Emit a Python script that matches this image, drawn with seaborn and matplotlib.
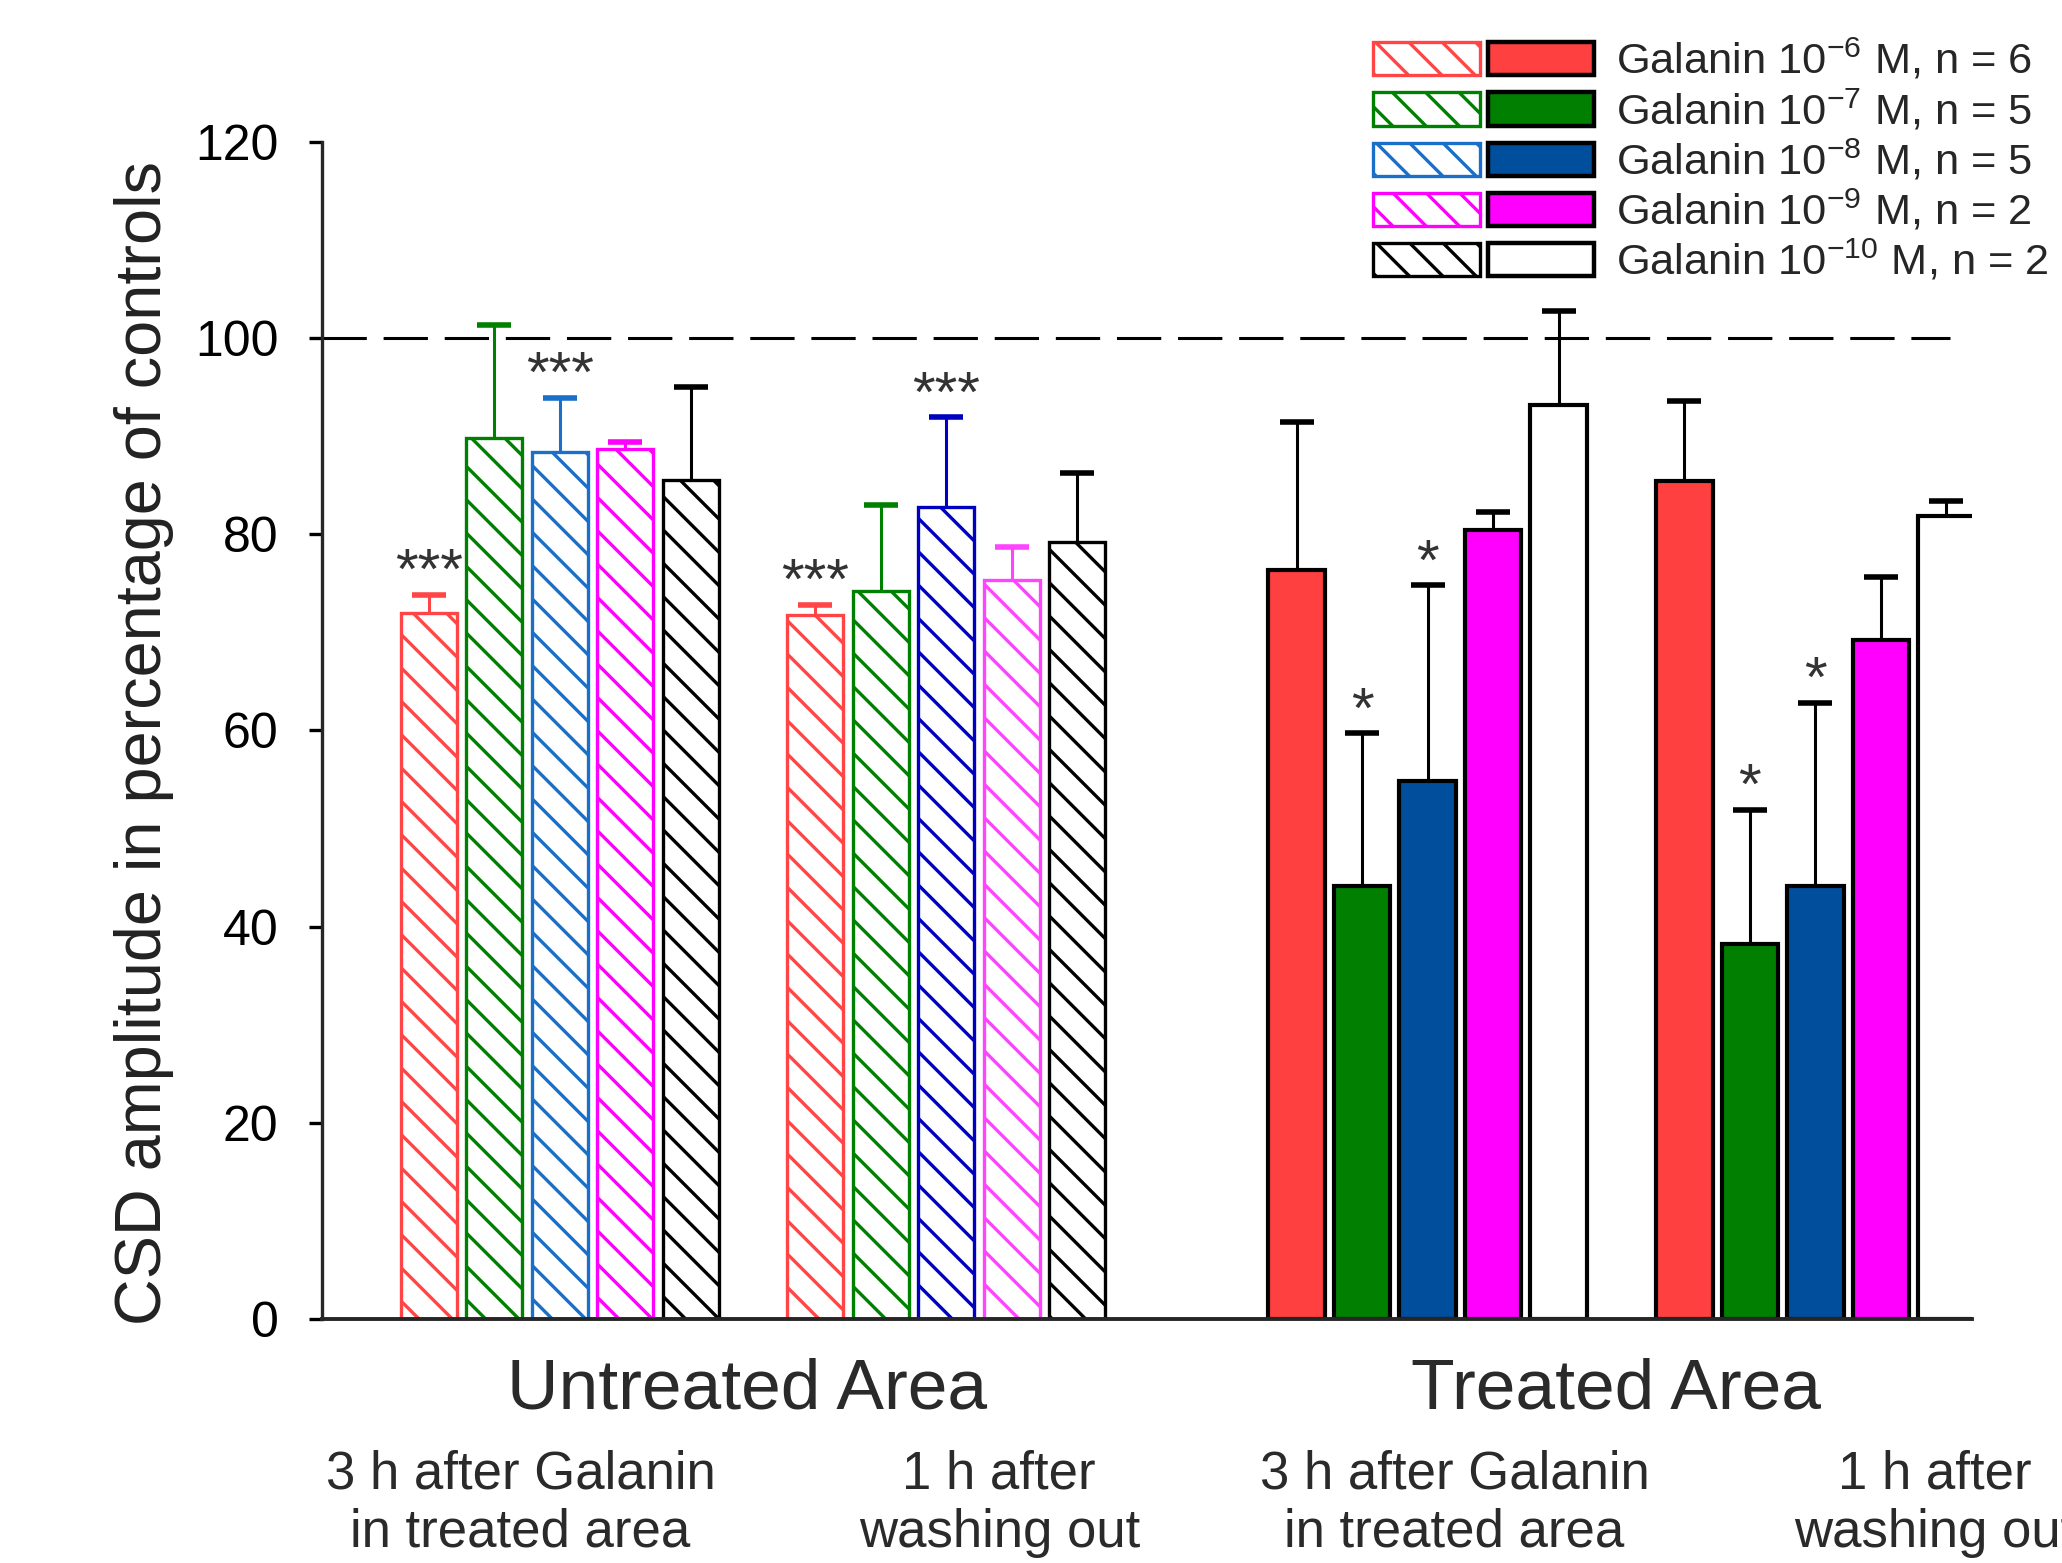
import numpy as np
import pandas as pd
import matplotlib
matplotlib.use("Agg")
import matplotlib.pyplot as plt
import matplotlib.patches as mpatches
from matplotlib.legend_handler import HandlerTuple
import seaborn as sns

# values (% of controls, mean and upper SEM)
conditions = ["untreated_3h", "untreated_1h", "treated_3h", "treated_1h"]
concentrations = ["1e-6", "1e-7", "1e-8", "1e-9", "1e-10"]
exponents = [-6, -7, -8, -9, -10]
n_animals = [6, 5, 5, 2, 2]

amp_untreated_3h = [72.0, 89.8, 88.4, 88.7, 85.5]
amp_untreated_1h = [71.8, 74.2, 82.8, 75.3, 79.2]
amp_treated_3h = [76.3, 44.1, 54.8, 80.4, 93.2]
amp_treated_1h = [85.4, 38.2, 44.1, 69.2, 81.9]

sem_untreated_3h = [1.8, 11.5, 5.5, 0.7, 9.5]
sem_untreated_1h = [1.0, 8.8, 9.1, 3.4, 7.0]
sem_treated_3h = [15.1, 15.6, 20.0, 1.9, 9.6]
sem_treated_1h = [8.2, 13.7, 18.7, 6.4, 1.5]

stars_untreated_3h = ["***", "", "***", "", ""]
stars_untreated_1h = ["***", "", "***", "", ""]
stars_treated_3h = ["", "*", "*", "", ""]
stars_treated_1h = ["", "*", "*", "", ""]

area_labels = ["Untreated Area", "Treated Area"]
time_labels = ["3 h after Galanin\nin treated area", "1 h after\nwashing out",
               "3 h after Galanin\nin treated area", "1 h after\nwashing out"]

# colours
hatch_colors_3h = ["#FF4545", "#008000", "#1A6FC9", "#FF00FF", "#000000"]
hatch_colors_1h = ["#FF4545", "#008000", "#0000C0", "#FF44FF", "#000000"]
fill_colors = ["#FF4040", "#007F00", "#004E9C", "#FF00FF", "#FFFFFF"]

# build a long table for seaborn
amps = [amp_untreated_3h, amp_untreated_1h, amp_treated_3h, amp_treated_1h]
sems = [sem_untreated_3h, sem_untreated_1h, sem_treated_3h, sem_treated_1h]
stars = [stars_untreated_3h, stars_untreated_1h, stars_treated_3h, stars_treated_1h]
rows = []
for cond, a, s, st in zip(conditions, amps, sems, stars):
    for conc, v, e, t in zip(concentrations, a, s, st):
        rows.append({"condition": cond, "conc": conc, "amp": v, "sem": e, "star": t})
df = pd.DataFrame(rows)

# layout: group centres on a scale where one bar step = 1
group_x = np.array([3.63, 9.53, 16.88, 22.8])
x_max = 25.19
df["x"] = df["condition"].map(dict(zip(conditions, group_x)))

sns.set_theme(style="ticks")
plt.rcParams["font.family"] = ["Liberation Sans", "DejaVu Sans"]
plt.rcParams["mathtext.fontset"] = "custom"
plt.rcParams["mathtext.rm"] = "Liberation Sans"
plt.rcParams["hatch.linewidth"] = 1.2

HATCH = "\\\\"

fig = plt.figure(figsize=(10.31, 7.815), dpi=200)
ax = fig.add_axes([0.1562, 0.1561, 0.8001, 0.7532])

nlev = len(concentrations)
sns.barplot(data=df, x="x", y="amp", hue="conc", hue_order=concentrations,
            native_scale=True, width=nlev / np.diff(group_x).min(), gap=0.14,
            errorbar=None, legend=False, palette=fill_colors, ax=ax)

# style each bar and add its error bar / significance marks
for p in list(ax.patches):
    cx = p.get_x() + p.get_width() / 2
    g = int(np.argmin(np.abs(group_x - cx)))
    i = int(round(cx - group_x[g] + (nlev - 1) / 2))
    top = p.get_height()
    row = df[(df["condition"] == conditions[g]) & (df["conc"] == concentrations[i])].iloc[0]
    if g < 2:
        c = (hatch_colors_3h if g == 0 else hatch_colors_1h)[i]
        p.set_facecolor("white")
        p.set_edgecolor(c)
        p.set_hatch(HATCH)
        p.set_linewidth(1.2)
        ecol = c
    else:
        p.set_facecolor(fill_colors[i])
        p.set_edgecolor("black")
        p.set_linewidth(1.5)
        ecol = "black"
    eb = ax.errorbar(cx, top, yerr=[[0], [row["sem"]]], color=ecol, lw=1.1,
                     capsize=6, capthick=2, zorder=1)
    eb.lines[1][0].remove()  # no cap at the bar top
    if row["star"]:
        ax.text(cx, top + row["sem"] + 0.6, row["star"], ha="center", va="baseline",
                fontsize=21, color="#333333")

# reference line at 100 %
ax.axhline(100, xmin=0, xmax=0.987, color="black", lw=1.1, linestyle=(0, (14.5, 5.5)), zorder=0)

ax.set_xlim(0, x_max)
ax.set_ylim(0, 120)
ax.set_yticks(np.arange(0, 121, 20))
ax.set_xticks([])
ax.set_xlabel("")
ax.set_ylabel("CSD amplitude in percentage of controls", fontsize=23.3, color="#222222")
ax.yaxis.set_label_coords(-0.09, 0.489)
ax.tick_params(axis="y", labelsize=18, length=4.7, width=1.2, pad=11, colors="black")
sns.despine(ax=ax)
ax.spines["left"].set_linewidth(1.2)
ax.spines["bottom"].set_linewidth(1.4)

# category labels beneath the axis
trans = ax.get_xaxis_transform()
for lab, xp in zip(area_labels, [6.49, 19.76]):
    ax.text(xp, -0.061, lab, transform=trans, ha="center", va="center",
            fontsize=25.7, color="#2a2a2a", clip_on=False)
for lab, xp in zip(time_labels, [3.03, 10.34, 17.29, 24.62]):
    ax.text(xp, -0.157, lab, transform=trans, ha="center", va="center",
            fontsize=19, color="#2a2a2a", linespacing=1.2, clip_on=False)

# legend: hatched + filled swatch per concentration
handles = []
labels = []
for i in range(nlev):
    h1 = mpatches.Patch(facecolor="white", edgecolor=hatch_colors_3h[i], hatch=HATCH, lw=1.2)
    h2 = mpatches.Patch(facecolor=fill_colors[i], edgecolor="black", lw=1.6)
    handles.append((h1, h2))
    labels.append(r"Galanin 10$^{\mathregular{%d}}$ M, n = %d" % (exponents[i], n_animals[i]))
fig.legend(handles, labels, handler_map={tuple: HandlerTuple(ndivide=None, pad=0.18)},
           loc="upper left", bbox_to_anchor=(0.666, 0.976), frameon=False,
           fontsize=15.6, handlelength=5.1, handleheight=0.8, handletextpad=0.5,
           labelspacing=0.11, borderpad=0, borderaxespad=0)

fig.savefig("out.png", dpi=200)
